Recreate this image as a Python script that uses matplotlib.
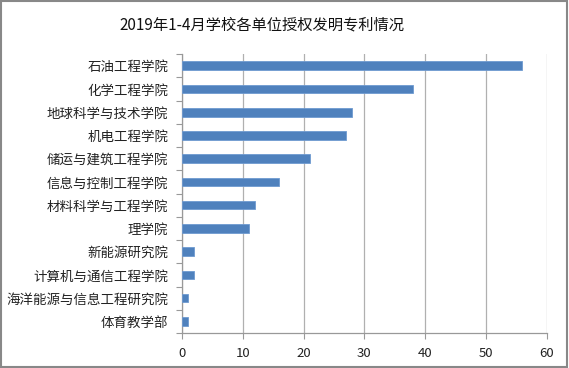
import matplotlib.pyplot as plt
from matplotlib.patches import Rectangle

plt.rcParams['font.family'] = ['Noto Sans CJK SC', 'DejaVu Sans']

units = ["石油工程学院", "化学工程学院", "地球科学与技术学院", "机电工程学院",
         "储运与建筑工程学院", "信息与控制工程学院", "材料科学与工程学院", "理学院",
         "新能源研究院", "计算机与通信工程学院", "海洋能源与信息工程研究院", "体育教学部"]
patents = [56, 38, 28, 27, 21, 16, 12, 11, 2, 2, 1, 1]
xticks = [0, 10, 20, 30, 40, 50, 60]

fig = plt.figure(figsize=(5.69, 3.68), dpi=100)
ax = fig.add_axes((0.32, 0.095, 0.641, 0.758))

pos = list(range(len(units)))[::-1]
ax.barh(pos, patents, height=0.37, color='#4F81BD', edgecolor='#6F9AD0', linewidth=0.6, zorder=3)

ax.set_ylim(-0.5, len(units) - 0.5)
ax.set_xlim(0, 60)
ax.set_xticks(xticks)
ax.set_yticks(pos)
ax.set_yticklabels(units, fontsize=9.7, color='#222222')
ax.set_yticks([p + 0.5 for p in pos] + [-0.5], minor=True)
ax.tick_params(axis='y', which='major', length=0, pad=10)
ax.tick_params(axis='y', which='minor', length=4, color='#999999', width=0.8)
ax.tick_params(axis='x', length=4, color='#999999', labelsize=9.5, labelcolor='#222222', pad=6)
ax.grid(axis='x', color='#B0B0B0', linewidth=0.9, zorder=0)

for s in ['top', 'right']:
    ax.spines[s].set_visible(False)
for s in ['left', 'bottom']:
    ax.spines[s].set_color('#999999')
    ax.spines[s].set_linewidth(0.9)

fig.text(0.46, 0.932, "2019年1-4月学校各单位授权发明专利情况", ha='center', va='center',
         fontsize=11, color='#111111')

fig.patches.append(Rectangle((0.002, 0.003), 0.995, 0.993, transform=fig.transFigure,
                             fill=False, edgecolor='#888888', linewidth=1.5))

fig.savefig('out.png', dpi=100)
